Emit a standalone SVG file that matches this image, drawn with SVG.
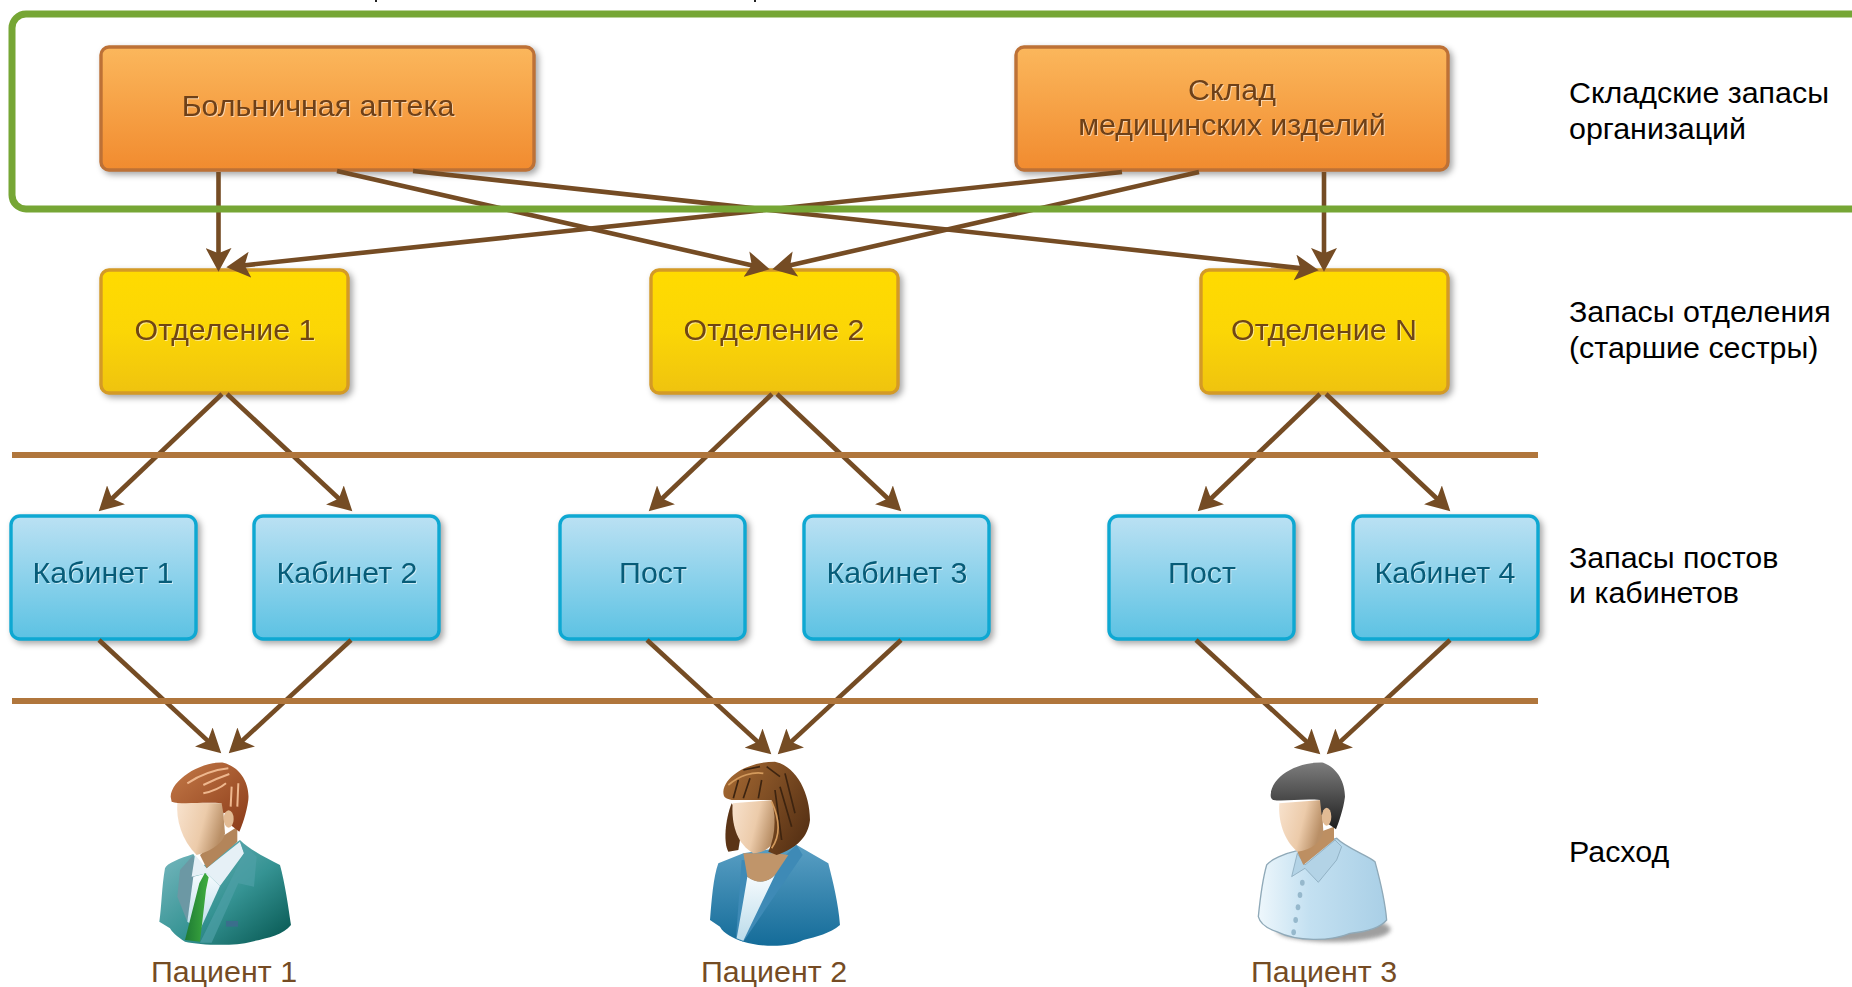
<svg xmlns="http://www.w3.org/2000/svg" width="1852" height="987" viewBox="0 0 1852 987">
<style>
text{font-family:"Liberation Sans",Arial,sans-serif;font-size:30.4px}
.box{stroke-width:3.4;filter:drop-shadow(3px 3px 3px rgba(0,0,0,.35))}
.o{fill:url(#go);stroke:#bd7136}.y{fill:url(#gy);stroke:#d49a26}.b{fill:url(#gb);stroke:#0ea8d2}
.c{text-anchor:middle;filter:drop-shadow(1px 1.5px 0 rgba(255,255,255,.55))}
.to{fill:#6e4018}.ty{fill:#704614}.tb{fill:#075c78}
.p{fill:#754c24;text-anchor:middle}
.l{fill:#000}
.a{stroke:#754c24;stroke-width:4.6;fill:none;marker-end:url(#ah)}
.r{stroke:#b0763c;stroke-width:6;fill:none}
</style>
<defs>
<linearGradient id="go" x1="0" y1="0" x2="0" y2="1"><stop offset="0" stop-color="#fbb75c"/><stop offset="1" stop-color="#f18b2f"/></linearGradient>
<linearGradient id="gy" x1="0" y1="0" x2="0" y2="1"><stop offset="0" stop-color="#ffdb00"/><stop offset=".5" stop-color="#fbd606"/><stop offset="1" stop-color="#efc30f"/></linearGradient>
<linearGradient id="gb" x1="0" y1="0" x2="0" y2="1"><stop offset="0" stop-color="#bbe1f3"/><stop offset="1" stop-color="#5cc2e3"/></linearGradient>
<marker id="ah" markerUnits="userSpaceOnUse" markerWidth="26" markerHeight="26" refX="13" refY="12" orient="auto" viewBox="0 0 24 24"><path d="M0 0L22 12L0 24L5 12Z" fill="#754c24"/></marker>
<linearGradient id="skin" x1="0" y1="0" x2="1" y2=".3"><stop offset="0" stop-color="#f8e2cd"/><stop offset=".6" stop-color="#eccbaa"/><stop offset="1" stop-color="#b98f66"/></linearGradient>
<linearGradient id="teal" x1="0" y1="0" x2="1" y2="1"><stop offset="0" stop-color="#7fbcc4"/><stop offset=".55" stop-color="#359393"/><stop offset="1" stop-color="#04544e"/></linearGradient>
<linearGradient id="hr" x1="0" y1="0" x2="1" y2="1"><stop offset="0" stop-color="#c47a48"/><stop offset="1" stop-color="#8a3a18"/></linearGradient>
<linearGradient id="tie" x1="0" y1="0" x2="1" y2="0"><stop offset="0" stop-color="#1e7a34"/><stop offset="1" stop-color="#3fae3f"/></linearGradient>
<linearGradient id="shirt" x1="0" y1="0" x2="0" y2="1"><stop offset="0" stop-color="#f6fbfe"/><stop offset="1" stop-color="#bcdcea"/></linearGradient>
<linearGradient id="blue" x1="0" y1="0" x2="0" y2="1"><stop offset="0" stop-color="#5a9fc4"/><stop offset="1" stop-color="#146c99"/></linearGradient>
<linearGradient id="hb" x1="0" y1="0" x2="1" y2=".6"><stop offset="0" stop-color="#a96c34"/><stop offset="1" stop-color="#5b3416"/></linearGradient>
<linearGradient id="hk" x1="0" y1="0" x2="0" y2="1"><stop offset="0" stop-color="#7d7d7d"/><stop offset="1" stop-color="#1e1e1e"/></linearGradient>
<linearGradient id="lb" x1="0" y1="0" x2="1" y2="0"><stop offset="0" stop-color="#eef7fc"/><stop offset=".4" stop-color="#c3e0f1"/><stop offset="1" stop-color="#a9cfe6"/></linearGradient>
<filter id="soft" x="-20%" y="-40%" width="140%" height="180%"><feGaussianBlur stdDeviation="6"/></filter>
</defs>

<g id="pharmacy"><rect class="box o" x="101" y="47" width="433" height="123" rx="8"/><text class="c to" x="318" y="116">Больничная аптека</text></g>
<g id="warehouse"><rect class="box o" x="1016" y="47" width="432" height="123" rx="8"/><text class="c to" x="1232" y="100">Склад</text><text class="c to" x="1232" y="135">медицинских изделий</text></g>
<g id="dept1"><rect class="box y" x="101" y="270" width="247" height="123" rx="8"/><text class="c ty" x="225" y="340">Отделение 1</text></g>
<g id="dept2"><rect class="box y" x="651" y="270" width="247" height="123" rx="8"/><text class="c ty" x="774" y="340">Отделение 2</text></g>
<g id="deptN"><rect class="box y" x="1201" y="270" width="247" height="123" rx="8"/><text class="c ty" x="1324" y="340">Отделение N</text></g>
<g id="room1"><rect class="box b" x="11" y="516" width="185" height="123" rx="9"/><text class="c tb" x="103" y="583">Кабинет 1</text></g>
<g id="room2"><rect class="box b" x="254" y="516" width="185" height="123" rx="9"/><text class="c tb" x="347" y="583">Кабинет 2</text></g>
<g id="post1"><rect class="box b" x="560" y="516" width="185" height="123" rx="9"/><text class="c tb" x="653" y="583">Пост</text></g>
<g id="room3"><rect class="box b" x="804" y="516" width="185" height="123" rx="9"/><text class="c tb" x="897" y="583">Кабинет 3</text></g>
<g id="post2"><rect class="box b" x="1109" y="516" width="185" height="123" rx="9"/><text class="c tb" x="1202" y="583">Пост</text></g>
<g id="room4"><rect class="box b" x="1353" y="516" width="185" height="123" rx="9"/><text class="c tb" x="1445" y="583">Кабинет 4</text></g>

<g id="connectors">
<path class="a" d="M218.500 172V262"/>
<path class="a" d="M1122 172L236 266.200"/>
<path class="a" d="M337 171L760.200 267.200"/>
<path class="a" d="M413 171L1309 269.100"/>
<path class="a" d="M1199 172L781.800 267.200"/>
<path class="a" d="M1324 172V262"/>
<path class="a" d="M222 394L105.800 504.500"/>
<path class="a" d="M227 394L345.200 504.500"/>
<path class="a" d="M772 394L655.800 504.500"/>
<path class="a" d="M777 394L894.200 504.500"/>
<path class="a" d="M1320 394L1204.800 504.500"/>
<path class="a" d="M1326 394L1443.200 504.500"/>
<path class="a" d="M99 640L214.100 746.600"/>
<path class="a" d="M351 640L235.900 746.600"/>
<path class="a" d="M647 640L764.100 747.600"/>
<path class="a" d="M901 640L784.900 747.600"/>
<path class="a" d="M1196 640L1313.100 747.600"/>
<path class="a" d="M1450 640L1333.900 747.600"/>
</g>

<g id="frame"><rect x="12" y="14" width="1900" height="195" rx="14" fill="none" stroke="#76a635" stroke-width="7"/></g>
<g id="dividers"><path class="r" d="M12 455H1538"/><path class="r" d="M12 701H1538"/></g>
<g id="clipped-marks" stroke="#222" stroke-width="2"><path d="M376 0V2"/><path d="M755 0V2"/></g>

<g id="label1" class="l"><text x="1569" y="103">Складские запасы</text><text x="1569" y="139">организаций</text></g>
<g id="label2" class="l"><text x="1569" y="322">Запасы отделения</text><text x="1569" y="358">(старшие сестры)</text></g>
<g id="label3" class="l"><text x="1569" y="568">Запасы постов</text><text x="1569" y="603">и кабинетов</text></g>
<g id="label4" class="l"><text x="1569" y="862">Расход</text></g>

<g id="patient1">
<g transform="translate(100 620) scale(.3333)">
<path d="M178 905C185 860 185 800 195 745C200 730 240 715 280 702L305 740L420 660C450 690 500 715 540 735C555 790 565 860 573 915C550 945 500 955 455 965C400 980 300 975 255 965C230 950 215 935 210 925Z" fill="url(#teal)"/>
<path d="M240 750L280 705L290 760L262 905L232 830Z" fill="#6c98a4"/>
<path d="M285 705L320 745L420 665L432 700L360 798L320 760L275 770Z" fill="#e6f0f6"/>
<path d="M280 770L320 760L360 798L300 930L262 905Z" fill="url(#shirt)"/>
<path d="M298 790L315 758L326 772L318 810L300 965L255 960Z" fill="url(#tie)"/>
<path d="M420 665L470 710L462 800L415 790L335 968L300 968L432 700Z" fill="#4fa0a6" opacity=".7"/>
<rect x="378" y="903" width="36" height="17" fill="#3a6e8c"/>
<path d="M300 705L320 745L412 665L412 620L350 660Z" fill="#b3855a"/>
<path d="M232 548C228 600 245 660 290 705C330 695 370 670 375 640L368 550Z" fill="url(#skin)"/>
<path d="M212 530C215 480 300 425 370 428C420 440 450 490 445 540C440 580 425 620 418 635L385 610L388 575L370 580L365 550C310 545 240 555 215 545Z" fill="url(#hr)"/>
<ellipse cx="386" cy="597" rx="15" ry="26" fill="#e2bb94"/>
<path d="M262 490C300 465 340 450 385 445M310 495C340 480 365 470 388 462M310 520C335 515 360 505 378 490M395 500L392 560M415 490L412 560" stroke="#eeb78e" stroke-width="6" fill="none"/>
</g>
<text class="p" x="224" y="982">Пациент 1</text>
</g>

<g id="patient2">
<g transform="translate(660 720) scale(.3333)">
<path d="M215 250C195 300 190 370 205 395L235 390L250 300Z" fill="#5b3416"/>
<path d="M150 600C155 540 160 470 175 430L250 400L410 375L505 430C520 490 535 550 540 615C510 640 470 650 430 660C380 685 300 680 250 665C220 655 190 640 180 620Z" fill="url(#blue)"/>
<path d="M350 430L410 375L428 405L250 665L228 655L245 420Z" fill="#3e8ab6"/>
<path d="M262 470C290 490 320 490 345 465L250 662L230 655C240 600 252 530 262 470Z" fill="url(#shirt)"/>
<path d="M250 400L262 470C290 492 320 490 345 465L385 405L350 400Z" fill="#c0956a"/>
<path d="M218 250C214 310 228 370 280 400C320 400 345 370 350 340L338 240Z" fill="url(#skin)"/>
<path d="M190 215C195 165 270 125 345 125C410 140 450 220 450 300C445 350 410 385 350 405L325 395C345 350 350 300 335 240L215 240C200 235 190 235 190 215Z" fill="url(#hb)"/>
<path d="M235 180L220 235M270 175L250 235M305 180L295 235M250 150L300 140M320 140L360 170M375 160L405 280M360 200L395 320M345 210L365 360" stroke="#3d2410" stroke-width="5" fill="none"/>
<path d="M205 195C240 165 280 155 310 160M335 245C360 300 360 350 335 385" stroke="#d39a5c" stroke-width="5" fill="none"/>
</g>
<text class="p" x="774" y="982">Пациент 2</text>
</g>

<g id="patient3">
<g transform="translate(1210 720) scale(.3333)">
<ellipse cx="370" cy="628" rx="172" ry="38" fill="#6c6c6c" opacity=".65" filter="url(#soft)"/>
<path d="M145 590C150 540 160 470 170 435C180 420 225 400 262 392L380 355C410 385 470 405 495 425C510 480 525 540 530 600C510 625 470 635 420 640C360 665 260 665 200 635C170 625 150 610 145 590Z" fill="url(#lb)" stroke="#8fa9b8" stroke-width="4"/>
<path d="M262 400L285 435L375 360L395 380L380 420L325 487L285 445L245 470Z" fill="#b3d3e6" stroke="#7e9fb2" stroke-width="2"/>
<path d="M262 395L280 435L372 360L372 320L320 340Z" fill="#bd8f62"/>
<path d="M208 250C204 300 220 360 262 395C305 390 335 365 340 335L335 240Z" fill="url(#skin)"/>
<path d="M182 225C185 170 260 125 340 128C385 145 405 190 405 230C400 270 385 310 378 328L352 310L355 270L335 285L330 240C280 235 220 245 190 240C184 238 182 232 182 225Z" fill="url(#hk)"/>
<ellipse cx="350" cy="290" rx="14" ry="27" fill="#e2bb94"/>
<g fill="#96b8cc"><ellipse cx="277" cy="488" rx="7" ry="9"/><ellipse cx="270" cy="525" rx="7" ry="9"/><ellipse cx="264" cy="562" rx="7" ry="9"/><ellipse cx="257" cy="600" rx="7" ry="9"/><ellipse cx="251" cy="637" rx="7" ry="9"/></g>
</g>
<text class="p" x="1324" y="982">Пациент 3</text>
</g>
</svg>
